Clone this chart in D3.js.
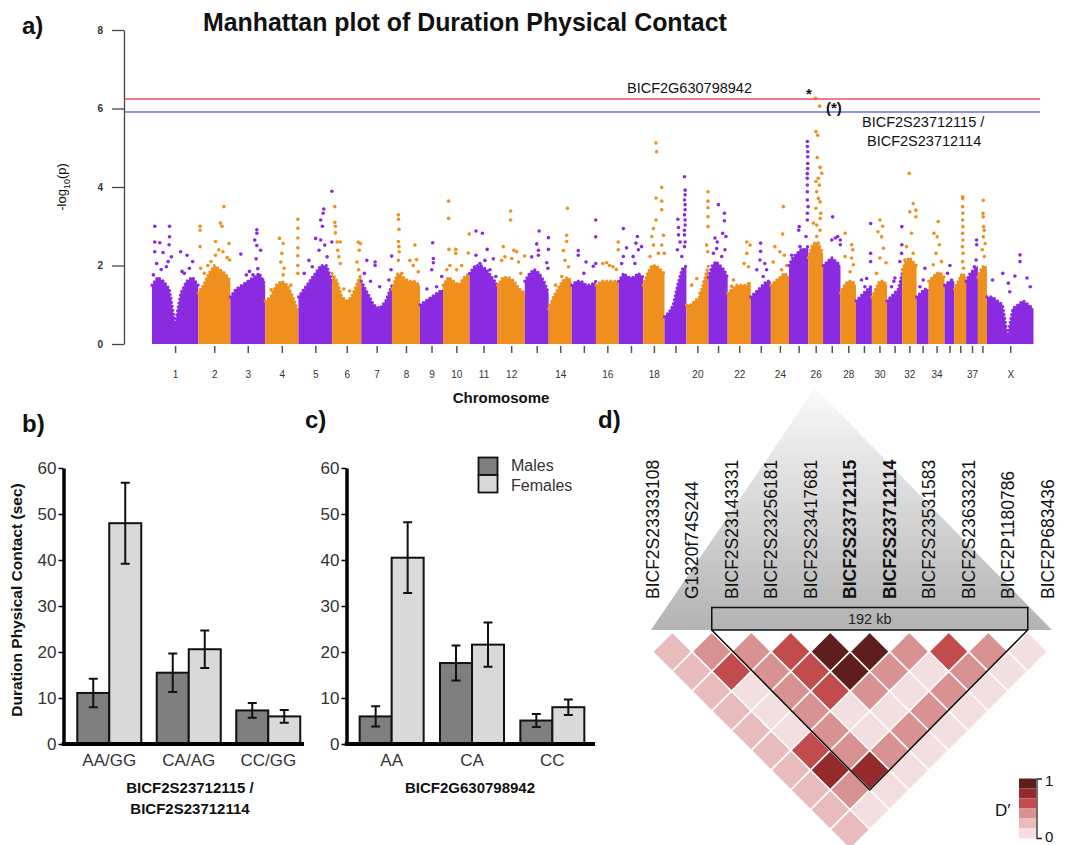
<!DOCTYPE html>
<html>
<head>
<meta charset="utf-8">
<script src="https://cdn.jsdelivr.net/npm/d3@7"></script>
<style>
  body { margin: 0; background: #fff; }
  svg text { font-family: "Liberation Sans", Arial, sans-serif; }
</style>
</head>
<body>
<script>
/************** data: panel a (Manhattan) **************/
var chrName = ["1","2","3","4","5","6","7","8","9","10","11","12","13","14","15","16","17","18","19","20",
  "21","22","23","24","25","26","27","28","29","30","31","32","33","34","35","36","37","38","X"];
var chrLen = [122,85,92,88,89,77,81,74,61,70,74,72,63,61,64,60,65,56,58,58,51,61,53,48,51,39,46,41,42,40,40,38,32,42,26,31,31,24,123];
var chrLabels = ["1","2","3","4","5","6","7","8","9","10","11","12","14","16","18","20","22","24","26","28","30","32","34","37","X"];
var yTicksA = [0,2,4,6,8];
var thresholds = [6.24, 5.91]; // red, blue

// top of the dense band of SNPs, sampled evenly along each chromosome (-log10 p)
var massTop = [
  [1.5,1.7,1.6,1.4,0.5,1.3,1.6,1.7,1.5],
  [1.3,1.5,1.8,2.0,1.9,1.8,1.6],
  [1.2,1.4,1.5,1.6,1.7,1.8,1.5],
  [1.1,1.2,1.5,1.6,1.5,1.2,0.8],
  [1.2,1.4,1.6,1.8,2.0,2.0,1.6],
  [1.8,1.6,1.2,1.1,1.2,1.5,1.8],
  [1.6,1.3,1.0,0.9,1.1,1.5],
  [1.4,1.8,1.7,1.6,1.6,1.5],
  [1.0,1.1,1.2,1.3,1.4],
  [1.5,1.7,1.6,1.5,1.7,1.8],
  [1.8,2.0,2.0,1.9,1.7,1.5],
  [1.5,1.7,1.7,1.6,1.4,1.3],
  [1.6,1.8,1.9,1.8,1.6,1.3],
  [0.9,1.2,1.4,1.6,1.7,1.6],
  [1.5,1.6,1.6,1.5,1.5,1.6],
  [1.5,1.6,1.6,1.6,1.6],
  [1.6,1.8,1.7,1.7,1.8,1.7],
  [1.5,1.8,2.0,2.0,1.9,1.8],
  [0.7,0.8,1.0,1.5,1.9,2.0],
  [1.0,1.0,1.1,1.2,1.6,2.0],
  [1.7,2.0,2.1,2.0,1.9,1.7],
  [1.3,1.4,1.5,1.5,1.5,1.6],
  [1.2,1.3,1.4,1.5,1.6,1.6],
  [1.5,1.6,1.7,1.8,1.7],
  [2.0,2.2,2.3,2.4,2.4,2.5],
  [2.2,2.5,2.6,2.5,2.3],
  [2.0,2.1,2.2,2.1,2.0],
  [1.3,1.5,1.6,1.6,1.5],
  [1.1,1.2,1.3,1.4,1.5],
  [1.2,1.4,1.6,1.6,1.5],
  [1.1,1.2,1.3,1.4,1.8],
  [1.9,2.1,2.2,2.1,2.0],
  [1.2,1.3,1.4,1.4],
  [1.6,1.7,1.8,1.8,1.7],
  [1.5,1.6,1.6],
  [1.4,1.6,1.8,1.7],
  [1.6,1.8,1.9,2.0],
  [1.7,1.9,2.0,1.9],
  [1.2,1.2,1.1,1.0,0.2,0.9,1.0,1.1,1.0,0.9]
];

// scattered SNPs above the band: [position along chromosome (0-1), -log10 p]
var peaks = [
  [[.06,3.0],[.38,3.0],[.38,2.73],[.06,2.6],[.17,2.58],[.37,2.53],[.06,2.35],[.24,2.33],[.42,2.22],[.62,2.35],[.76,2.26],[.1,2.05],[.31,1.97],[.81,1.93],[.88,2.1],[.65,1.85],[.03,1.76],[.2,1.9],[.35,2.1],[.7,1.8]],
  [[.8,3.5],[.69,3.08],[.74,3.0],[.06,3.0],[.06,2.9],[.06,2.48],[.54,2.61],[.96,2.56],[.64,2.4],[.77,2.35],[.54,2.26],[.19,1.8],[.08,1.93],[.98,2.14],[.4,2.1],[.3,2.0],[.9,2.2]],
  [[.76,2.91],[.76,2.82],[.7,2.65],[.76,2.51],[.3,2.29],[.87,2.39],[.74,2.17],[.79,1.92],[.65,1.76],[.46,1.76],[.93,1.63],[.55,1.85]],
  [[.43,2.69],[.54,2.56],[.5,2.31],[.47,2.09],[.57,1.93],[.54,1.76],[.18,1.38],[.77,1.5],[.98,3.18],[.98,2.95],[.98,2.7],[.98,2.45],[.98,2.25],[.98,2.0],[.98,1.8]],
  [[.75,3.44],[.73,3.33],[.66,3.16],[.71,3.0],[.51,2.69],[.66,2.65],[.78,2.52],[.61,2.39],[.31,2.13],[.41,1.97],[.17,1.8],[.85,2.22],[.99,3.89],[.99,2.6]],
  [[.09,3.5],[.09,3.1],[.11,3.0],[.11,2.83],[.17,2.6],[.28,2.6],[.19,2.39],[.23,2.22],[.28,2.05],[.89,2.6],[.97,2.56],[.93,2.39],[.85,2.09],[.91,1.89],[.4,1.4],[.6,1.35]],
  [[.18,2.13],[.45,2.09],[.45,2.0],[.99,2.24],[.97,1.89],[.9,1.63],[.6,1.46],[.3,1.6],[.1,1.8]],
  [[.23,3.29],[.23,3.18],[.25,2.92],[.23,2.61],[.25,2.48],[.26,2.35],[.82,2.52],[.23,2.13],[.64,2.13],[.88,2.15],[.76,2.0],[.35,1.8],[.94,1.84]],
  [[.55,2.58],[.58,2.18],[.58,2.07],[.51,1.89],[.94,1.72],[.72,1.46],[.3,1.4]],
  [[.21,3.64],[.21,3.2],[.22,2.41],[.48,2.41],[.48,2.31],[.26,2.0],[.99,2.8],[.95,2.32],[.14,1.89],[.51,1.89],[.7,2.0]],
  [[.23,2.88],[.46,2.82],[.63,2.41],[.23,2.26],[.55,2.13],[.85,2.17],[.37,2.05],[.73,1.89],[.94,1.72]],
  [[.48,3.39],[.48,3.16],[.21,2.48],[.27,2.22],[.52,2.18],[.6,2.39],[.7,2.35],[.99,2.24],[.15,2.13],[.77,2.09],[.85,1.8]],
  [[.6,2.88],[.5,2.55],[.57,2.39],[.57,2.26],[.29,2.22],[.99,2.71],[.99,2.41],[.92,2.07],[.97,1.93]],
  [[.81,3.46],[.78,2.77],[.78,2.61],[.64,2.38],[.71,2.13],[.86,1.97],[.57,1.72],[.3,1.5]],
  [[.27,2.38],[.27,2.26],[.59,2.09],[.89,1.98],[.99,3.16],[.99,2.73],[.99,2.05],[.5,1.8]],
  [[.47,2.07],[.3,2.05],[.75,1.97],[.6,2.0],[.9,1.9],[.98,2.6],[.98,2.4]],
  [[.19,2.94],[.76,2.74],[.7,2.57],[.8,2.4],[.32,2.45],[.93,2.48],[.19,2.23],[.59,2.23],[.12,2.05],[.66,2.05]],
  [[.6,5.12],[.63,4.9],[.87,3.99],[.6,3.72],[.87,3.64],[.6,3.16],[.87,3.42],[.48,2.94],[.95,2.77],[.4,2.74],[.48,2.52],[.87,2.52],[.71,2.31],[.32,2.23],[.99,2.31]],
  [[.91,4.26],[.94,3.92],[.94,3.8],[.91,3.67],[.94,3.55],[.94,3.42],[.91,3.29],[.94,3.16],[.94,3.03],[.91,2.9],[.91,2.78],[.94,2.6],[.91,2.48],[.61,3.18],[.64,2.97],[.64,2.78],[.71,2.6],[.59,2.4],[.79,2.23]],
  [[.98,3.88],[.98,3.64],[.98,3.47],[.98,3.24],[.98,2.99],[.92,2.52],[.97,2.35],[.47,1.67],[.24,1.5],[.62,1.29]],
  [[.52,3.55],[.83,3.33],[.83,3.14],[.74,2.82],[.91,2.74],[.34,2.7],[.46,2.6],[.43,2.43],[.86,2.4],[.26,2.31],[.69,2.23]],
  [[.83,2.6],[.97,2.52],[.83,2.31],[.71,2.05],[.9,1.97],[.25,1.63],[.17,1.47]],
  [[.49,2.57],[.49,2.36],[.46,2.14],[.7,2.05],[.79,1.89],[.3,1.89],[.62,1.72]],
  [[.69,3.5],[.65,2.8],[.22,2.48],[.5,2.35],[.74,2.26],[.13,2.09],[.87,2.0],[.59,1.89]],
  [[.95,5.16],[.95,5.03],[.97,4.9],[.97,4.77],[.97,4.6],[.97,4.47],[.95,4.34],[.95,4.22],[.95,4.05],[.95,3.88],[.95,3.67],[.99,3.5],[.95,3.33],[.95,3.16],[.88,2.74],[.53,2.99],[.5,2.9],[.14,2.26],[.57,2.48],[.74,2.4]],
  [[.49,6.26],[.77,6.06],[.52,5.41],[.64,5.32],[.61,4.75],[.8,4.5],[.91,4.35],[.68,4.22],[.52,4.14],[.75,4.05],[.57,3.88],[.68,3.71],[.8,3.62],[.52,3.46],[.84,3.33],[.8,3.2],[.57,3.03],[.34,3.08],[.8,2.9],[.57,2.74],[.68,2.57],[.45,2.4]],
  [[.55,3.24],[.84,2.74],[.99,2.65],[.99,2.53],[.5,2.65],[.7,2.7]],
  [[.3,2.82],[.72,2.53],[.79,2.4],[.72,2.19],[.83,2.02],[.3,2.23],[.62,1.84]],
  [[.92,3.07],[.92,2.31],[.92,2.1],[.35,1.63],[.67,1.67],[.56,1.46]],
  [[.53,3.16],[.71,3.0],[.4,2.86],[.64,2.73],[.76,2.44],[.53,2.19],[.93,2.07],[.31,1.8]],
  [[.52,1.68],[.45,1.6],[.85,2.1],[.3,1.46],[.98,2.99],[.98,2.53],[.96,2.31]],
  [[.49,4.35],[.53,3.37],[.77,3.58],[.95,3.41],[.95,3.24],[.65,2.82],[.3,2.48],[.77,2.31],[.19,2.14],[.9,1.97]],
  [[.69,1.93],[.55,1.63],[.28,1.46]],
  [[.6,3.12],[.33,2.82],[.54,2.73],[.67,2.53],[.46,2.31],[.81,2.1],[.29,2.02],[.6,1.8]],
  [[.55,2.0],[.3,1.8],[.72,1.63]],
  [[.7,3.75],[.72,3.7],[.7,3.5],[.72,3.33],[.7,3.16],[.72,2.99],[.7,2.82],[.72,2.65],[.68,2.48],[.74,2.31],[.7,2.1],[.77,1.93],[.6,1.71]],
  [[.89,2.65],[.9,2.53],[.85,2.14],[.7,1.97],[.8,1.8]],
  [[.59,3.66],[.56,3.33],[.59,3.24],[.63,2.99],[.7,2.9],[.59,2.73],[.8,2.56],[.48,2.4],[.7,2.23]],
  [[.71,2.27],[.71,2.1],[.6,1.73],[.86,1.68],[.34,1.8],[.46,1.55],[.49,1.33],[.12,1.63],[.93,1.46]]
];

/************** data: panels b and c **************/
var sexes = ["Males","Females"];
var yTicksBar = [0,10,20,30,40,50,60];
var genoB = ["AA/GG","CA/AG","CC/GG"];
var maleB = [11.1,15.5,7.3],  maleErrB = [3.1,4.2,1.6];
var femaleB = [48.0,20.6,6.0], femaleErrB = [8.8,4.1,1.4];
var genoC = ["AA","CA","CC"];
var maleC = [6.0,17.6,5.1],   maleErrC = [2.2,3.8,1.4];
var femaleC = [40.5,21.6,8.0], femaleErrC = [7.7,4.8,1.7];

/************** data: panel d (LD) **************/
var ldMarkers = ["BICF2S23333108","G1320f74S244","BICF2S23143331","BICF2S23256181","BICF2S23417681",
  "BICF2S23712115","BICF2S23712114","BICF2S23531583","BICF2S23633231","BICF2P1180786","BICF2P683436"];
var ldBold = ["BICF2S23712115","BICF2S23712114"];
// D' class (0 = lowest, 5 = highest) by marker distance: row k holds pairs (i, i+k+1)
var ldRows = [
  [1,2,2,3,5,5,2,3,2,0],
  [1,3,2,3,5,2,0,2,0],
  [1,0,2,3,2,0,2,0],
  [1,0,2,0,0,2,0],
  [1,0,2,0,2,0],
  [1,3,2,2,0],
  [1,4,4,0],
  [1,2,0],
  [1,0],
  [1]
];
var ldColors = ["#f3dfdf","#e8bcbc","#d99292","#c24c4c","#952a2a","#5e1e1e"];
var blockFrom = 2, blockTo = 9; // markers inside the 192 kb block

/************** basic layout **************/
var purple = "#8a2be2", orange = "#ef8f1e";
var svg = d3.select("body").append("svg").attr("width",1068).attr("height",845);

function label(x, y, txt, size, weight) {
  return svg.append("text").attr("x",x).attr("y",y).text(txt)
    .attr("font-size",size).attr("font-weight",weight || "normal").attr("fill","#111");
}

/************** panel a **************/
label(22, 34, "a)", "24px", "bold");
var title = label(203, 31, "Manhattan plot of Duration Physical Contact", "21px", "bold");
var tl = title.node().getComputedTextLength();
title.attr("font-size", (21 * 524 / tl).toFixed(2) + "px");

var cum = [], acc = 0;
chrLen.forEach(function(l){ cum.push(acc); acc += l; });
var xM = d3.scaleLinear().domain([0, acc]).range([152, 1033.5]);
var yM = d3.scaleLinear().domain([0, 8]).range([344, 30]);

var gA = svg.append("g");
chrLen.forEach(function(len, i){
  var col = i % 2 === 0 ? purple : orange;
  var prof = massTop[i];
  var pts = prof.map(function(v,k){ return [cum[i] + len * k / (prof.length - 1), v]; });
  var area = d3.area().x(function(d){ return xM(d[0]); }).y0(yM(0)).y1(function(d){ return yM(d[1]); });
  gA.append("path").attr("d", area(pts)).attr("fill", col);
  gA.append("path")
    .attr("d", d3.line().x(function(d){ return xM(d[0]); }).y(function(d){ return yM(d[1]); })(pts))
    .attr("fill","none").attr("stroke",col).attr("stroke-width",3.2)
    .attr("stroke-linecap","round").attr("stroke-dasharray","0,4");
  gA.selectAll(null).data(peaks[i]).enter().append("circle")
    .attr("cx", function(d){ return xM(cum[i] + d[0] * len); })
    .attr("cy", function(d){ return yM(d[1]); })
    .attr("r", 1.8).attr("fill", col);
});

// threshold lines
svg.append("line").attr("x1",124).attr("x2",1040)
  .attr("y1",yM(thresholds[0])).attr("y2",yM(thresholds[0]))
  .attr("stroke","#e8535c").attr("stroke-width",1.5);
svg.append("line").attr("x1",124).attr("x2",1040)
  .attr("y1",yM(thresholds[1])).attr("y2",yM(thresholds[1]))
  .attr("stroke","#6c6cf0").attr("stroke-width",1.5);

// axes
var yAxisA = d3.axisLeft(yM).tickValues(yTicksA).tickSize(12).tickSizeOuter(0).tickPadding(9);
var gy = svg.append("g").attr("transform","translate(124,0)").call(yAxisA);
gy.selectAll("path,line").attr("stroke","#444").attr("stroke-width",1.3);
gy.selectAll("text").attr("font-size","10px").attr("fill","#333").attr("font-weight","bold");

var centers = chrLen.map(function(l,i){ return cum[i] + l / 2; });
var xAxisA = d3.axisBottom(xM).tickValues(centers).tickSize(7).tickPadding(18)
  .tickFormat(function(d,i){ return chrLabels.indexOf(chrName[i]) >= 0 ? chrName[i] : ""; });
var gx = svg.append("g").attr("transform","translate(0,346)").call(xAxisA);
gx.select(".domain").remove();
gx.selectAll("line").attr("stroke","#555").attr("stroke-width",1.5);
gx.selectAll("text").attr("font-size","10px").attr("fill","#333");

label(501, 403, "Chromosome", "15px", "bold").attr("text-anchor","middle");

var ylab = svg.append("text").attr("transform","translate(66,187) rotate(-90)")
  .attr("text-anchor","middle").attr("font-size","13px").attr("fill","#111");
ylab.append("tspan").text("-log");
ylab.append("tspan").text("10").attr("font-size","9px").attr("dy",4);
ylab.append("tspan").text("(p)").attr("dy",-4);

// annotations
label(627, 93, "BICF2G630798942", "14.5px");
label(806, 99, "*", "15px", "bold");
label(826, 113, "(*)", "15px", "bold");
label(862, 127, "BICF2S23712115 /", "14.5px");
label(867, 146, "BICF2S23712114", "14.5px");

/************** panels b and c **************/
function barPanel(x0, x1, axisX, axisEnd, genos, male, maleErr, female, femaleErr) {
  var y = d3.scaleLinear().domain([0,60]).range([744,468]);
  var xg = d3.scaleBand().domain(genos).range([x0, x1]);
  var xs = d3.scaleBand().domain(sexes).range([0, 64]);
  var vals = genos.map(function(g,i){
    return [{sex:"Males", v:male[i], e:maleErr[i]}, {sex:"Females", v:female[i], e:femaleErr[i]}];
  });
  var g = svg.append("g");
  var grp = g.selectAll("g.grp").data(vals).enter().append("g")
    .attr("transform", function(d,i){ return "translate(" + (xg(genos[i]) + (xg.bandwidth() - 64) / 2) + ",0)"; });
  grp.selectAll("rect").data(function(d){ return d; }).enter().append("rect")
    .attr("x", function(d){ return xs(d.sex); }).attr("width", xs.bandwidth())
    .attr("y", function(d){ return y(d.v); }).attr("height", function(d){ return y(0) - y(d.v); })
    .attr("fill", function(d){ return d.sex === "Males" ? "#7f7f7f" : "#d9d9d9"; })
    .attr("stroke","#111").attr("stroke-width",2);
  grp.selectAll("path.err").data(function(d){ return d; }).enter().append("path")
    .attr("d", function(d){
      var cx = xs(d.sex) + xs.bandwidth() / 2, t = y(d.v + d.e), b = y(d.v - d.e);
      return "M" + cx + "," + t + "V" + b + "M" + (cx - 4.5) + "," + t + "H" + (cx + 4.5) +
             "M" + (cx - 4.5) + "," + b + "H" + (cx + 4.5);
    })
    .attr("fill","none").attr("stroke","#111").attr("stroke-width",2);

  var ya = g.append("g").attr("transform","translate(" + axisX + ",0)")
    .call(d3.axisLeft(y).tickValues(yTicksBar).tickSize(5).tickSizeOuter(0).tickPadding(2));
  ya.select(".domain").attr("stroke","#000").attr("stroke-width",3.5);
  ya.selectAll("line").attr("stroke","#000").attr("stroke-width",1.5);
  ya.selectAll("text").attr("font-size","17px").attr("fill","#333");

  g.append("line").attr("x1", axisX - 1.75).attr("x2", axisEnd).attr("y1",744).attr("y2",744)
    .attr("stroke","#000").attr("stroke-width",4);
  var xa = g.append("g").attr("transform","translate(0,744)")
    .call(d3.axisBottom(xg).tickSize(0).tickPadding(10));
  xa.select(".domain").remove();
  xa.selectAll("text").attr("font-size","17px").attr("fill","#333");
  return g;
}

label(22, 432, "b)", "24px", "bold");
barPanel(69.5, 308, 63.5, 304, genoB, maleB, maleErrB, femaleB, femaleErrB);
label(190, 793, "BICF2S23712115 /", "15px", "bold").attr("text-anchor","middle");
label(190, 814, "BICF2S23712114", "15px", "bold").attr("text-anchor","middle");
svg.append("text").attr("transform","translate(16.5,600) rotate(-90)")
  .attr("text-anchor","middle").attr("dominant-baseline","central")
  .attr("font-size","15.5px").attr("font-weight","bold").attr("fill","#111")
  .text("Duration Physical Contact (sec)");

label(305, 428, "c)", "24px", "bold");
barPanel(351.5, 592.5, 346.5, 595, genoC, maleC, maleErrC, femaleC, femaleErrC);
label(470, 793, "BICF2G630798942", "15px", "bold").attr("text-anchor","middle");

// legend
var leg = svg.append("g");
leg.selectAll("rect").data(sexes).enter().append("rect")
  .attr("x",478.5).attr("y",function(d,i){ return 457.5 + i * 17.5; })
  .attr("width",19).attr("height",17.5)
  .attr("fill",function(d){ return d === "Males" ? "#7f7f7f" : "#d9d9d9"; })
  .attr("stroke","#111").attr("stroke-width",1.8);
leg.selectAll("text").data(sexes).enter().append("text")
  .attr("x",511).attr("y",function(d,i){ return 471 + i * 20; })
  .attr("font-size","16px").attr("fill","#333").text(function(d){ return d; });

/************** panel d **************/
label(598, 428, "d)", "24px", "bold");

var defs = svg.append("defs");
var grad = defs.append("linearGradient").attr("id","triGrad")
  .attr("gradientUnits","userSpaceOnUse").attr("x1",0).attr("x2",0).attr("y1",388).attr("y2",630);
grad.append("stop").attr("offset","0%").attr("stop-color","#fafafa");
grad.append("stop").attr("offset","100%").attr("stop-color","#b3b3b3");
svg.append("path").attr("d","M815,388L1052,630L651,630Z").attr("fill","url(#triGrad)");

var xm = d3.scalePoint().domain(ldMarkers).range([652.5, 1047.5]);
var step = xm.step(), half = step / 2;
var rowTop = 651.7;

svg.selectAll("text.marker").data(ldMarkers).enter().append("text")
  .attr("class","marker")
  .attr("transform", function(d){ return "translate(" + xm(d) + ",599) rotate(-90)"; })
  .attr("dy","0.36em").attr("font-size","17.5px").attr("fill","#111")
  .attr("font-weight", function(d){ return ldBold.indexOf(d) >= 0 ? "bold" : "normal"; })
  .text(function(d){ return d; });

var cells = [];
ldRows.forEach(function(row, k){
  row.forEach(function(c, i){
    cells.push({i:i, j:i + k + 1, c:c});
  });
});
svg.append("g").selectAll("path").data(cells).enter().append("path")
  .attr("d", function(d){
    var cx = (xm(ldMarkers[d.i]) + xm(ldMarkers[d.j])) / 2;
    var cy = rowTop + (d.j - d.i - 1) * half;
    return "M" + cx + "," + (cy - half) + "L" + (cx + half) + "," + cy + "L" + cx + "," + (cy + half) +
           "L" + (cx - half) + "," + cy + "Z";
  })
  .attr("fill", function(d){ return ldColors[d.c]; })
  .attr("stroke","#fff").attr("stroke-width",1.6);

// 192 kb block
var bx0 = xm(ldMarkers[blockFrom]) - half, bx1 = xm(ldMarkers[blockTo]) + half;
var tipX = (xm(ldMarkers[blockFrom]) + xm(ldMarkers[blockTo])) / 2;
var tipY = rowTop + (blockTo - blockFrom - 1) * half + half;
svg.append("rect").attr("x",bx0).attr("y",607.5).attr("width",bx1 - bx0).attr("height",22.5)
  .attr("fill","none").attr("stroke","#111").attr("stroke-width",1.5);
label((bx0 + bx1) / 2, 624, "192 kb", "14.5px").attr("text-anchor","middle").attr("fill","#222");
svg.append("path")
  .attr("d","M" + bx0 + ",630L" + tipX + "," + tipY + "L" + bx1 + ",630")
  .attr("fill","none").attr("stroke","#111").attr("stroke-width",1.6);

// D' legend
svg.append("g").selectAll("rect").data(ldColors.slice().reverse()).enter().append("rect")
  .attr("x",1019).attr("y",function(d,i){ return 778.5 + i * 10; })
  .attr("width",17).attr("height",10).attr("fill",function(d){ return d; });
svg.append("path").attr("d","M1042,779H1037V838.5H1042")
  .attr("fill","none").attr("stroke","#222").attr("stroke-width",1.3);
label(1045, 786, "1", "15px");
label(1045, 842, "0", "15px");
label(995, 816, "D\u2032", "17px");
</script>
</body>
</html>
